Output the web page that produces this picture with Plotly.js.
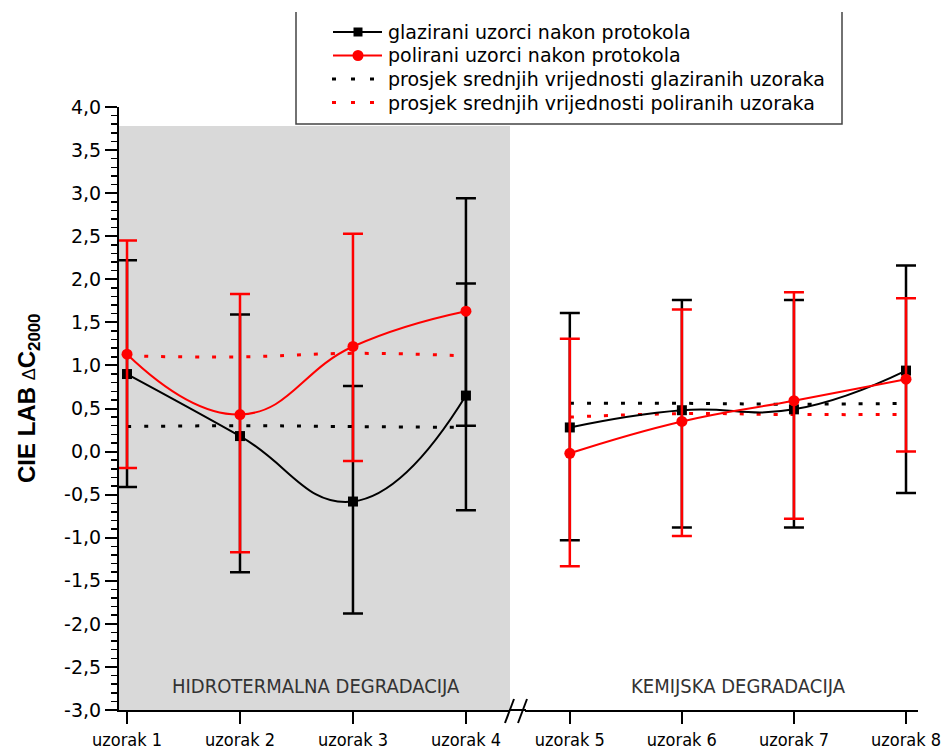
<!DOCTYPE html>
<html>
<head>
<meta charset="utf-8">
<script src="https://cdn.plot.ly/plotly-3.0.1.min.js"></script>
<style>html,body{margin:0;padding:0;background:#fff;}</style>
</head>
<body>
<div id="chart" style="width:946px;height:751px;"></div>
<script>
// ---- data ----
const categories = ['uzorak 1','uzorak 2','uzorak 3','uzorak 4','uzorak 5','uzorak 6','uzorak 7','uzorak 8'];
const glazirani      = [0.90, 0.18, -0.58, 0.65, 0.28, 0.48, 0.49, 0.94];
const glaziraniPlus  = [1.32, 1.41, 1.34, 1.30, 1.33, 1.28, 1.27, 1.22];
const glaziraniMinus = [1.31, 1.58, 1.30, 1.33, 1.31, 1.36, 1.37, 1.42];
const polirani       = [1.13, 0.43, 1.22, 1.63, -0.02, 0.35, 0.59, 0.84];
const poliraniPlus   = [1.32, 1.40, 1.31, 1.31, 1.33, 1.30, 1.26, 0.94];
const poliraniMinus  = [1.32, 1.60, 1.33, 1.33, 1.31, 1.33, 1.37, 0.84];
const prosjekGlaz    = [0.29, 0.30, 0.29, 0.28, 0.56, 0.56, 0.55, 0.56];
const prosjekPol     = [1.11, 1.10, 1.14, 1.11, 0.40, 0.44, 0.43, 0.43];
const yTickVals = [-3, -2.5, -2, -1.5, -1, -0.5, 0, 0.5, 1, 1.5, 2, 2.5, 3, 3.5, 4];
const names = ['glazirani uzorci nakon protokola', 'polirani uzorci nakon protokola',
  'prosjek srednjih vrijednosti glaziranih uzoraka', 'prosjek srednjih vrijednosti poliranih uzoraka'];
const sectionLabels = ['HIDROTERMALNA DEGRADACIJA', 'KEMIJSKA DEGRADACIJA'];

// ---- helpers ----
const part = (arr, p) => p === 0 ? arr.slice(0, 4) : arr.slice(4, 8);
const axisOf = p => p === 0 ? 'x' : 'x2';
const BLACK = '#000000', RED = '#ff0000';
const narrow = 'DejaVu Sans Condensed, Liberation Sans Narrow, sans-serif';
const wide = 'DejaVu Sans, Verdana, sans-serif';
const sans = 'Liberation Sans, Arial, sans-serif';
const DOT = '4px,13px';
const SMOOTH = 1.3;

const traces = [];
[0, 1].forEach(p => {
  traces.push({
    x: part(categories, p), y: part(prosjekGlaz, p), xaxis: axisOf(p), yaxis: 'y',
    type: 'scatter', mode: 'lines', name: names[2], showlegend: false,
    line: {color: BLACK, width: 3, dash: DOT, shape: 'spline', smoothing: SMOOTH}, hoverinfo: 'skip'
  });
  traces.push({
    x: part(categories, p), y: part(prosjekPol, p), xaxis: axisOf(p), yaxis: 'y',
    type: 'scatter', mode: 'lines', name: names[3], showlegend: false,
    line: {color: RED, width: 3, dash: DOT, shape: 'spline', smoothing: SMOOTH}, hoverinfo: 'skip'
  });
});
[0, 1].forEach(p => {
  traces.push({
    x: part(categories, p), y: part(glazirani, p), xaxis: axisOf(p), yaxis: 'y',
    type: 'scatter', mode: 'lines+markers', name: names[0], showlegend: false,
    line: {color: BLACK, width: 2, shape: 'spline', smoothing: SMOOTH},
    marker: {symbol: 'square', size: 10, color: BLACK},
    error_y: {type: 'data', symmetric: false, array: part(glaziraniPlus, p), arrayminus: part(glaziraniMinus, p),
      color: BLACK, thickness: 2.5, width: 10}
  });
});
// polirani error bars (the bar of uzorak 4 is black in the original figure)
traces.push({
  x: categories.slice(0, 3), y: polirani.slice(0, 3), xaxis: 'x', yaxis: 'y', name: names[1],
  type: 'scatter', mode: 'markers', marker: {opacity: 0, size: 1}, showlegend: false, hoverinfo: 'skip',
  error_y: {type: 'data', symmetric: false, array: poliraniPlus.slice(0, 3), arrayminus: poliraniMinus.slice(0, 3),
    color: RED, thickness: 2.5, width: 10}
});
traces.push({
  x: categories.slice(3, 4), y: polirani.slice(3, 4), xaxis: 'x', yaxis: 'y', name: names[1],
  type: 'scatter', mode: 'markers', marker: {opacity: 0, size: 1}, showlegend: false, hoverinfo: 'skip',
  error_y: {type: 'data', symmetric: false, array: poliraniPlus.slice(3, 4), arrayminus: poliraniMinus.slice(3, 4),
    color: BLACK, thickness: 2.5, width: 10}
});
traces.push({
  x: part(categories, 1), y: part(polirani, 1), xaxis: 'x2', yaxis: 'y', name: names[1],
  type: 'scatter', mode: 'markers', marker: {opacity: 0, size: 1}, showlegend: false, hoverinfo: 'skip',
  error_y: {type: 'data', symmetric: false, array: part(poliraniPlus, 1), arrayminus: part(poliraniMinus, 1),
    color: RED, thickness: 2.5, width: 10}
});
[0, 1].forEach(p => {
  traces.push({
    x: part(categories, p), y: part(polirani, p), xaxis: axisOf(p), yaxis: 'y',
    type: 'scatter', mode: 'lines+markers', name: names[1], showlegend: false,
    line: {color: RED, width: 2, shape: 'spline', smoothing: SMOOTH},
    marker: {symbol: 'circle', size: 11, color: RED}
  });
});

// pixel -> paper helpers for decorations
const L = 119, R = 918, T = 107, B = 710;
const px = v => (v - L) / (R - L);
const py = v => (B - v) / (B - T);

const xCommon = {
  type: 'category', showline: true, linecolor: BLACK, linewidth: 2, mirror: false,
  ticks: 'outside', ticklen: 12, tickwidth: 2, tickcolor: BLACK,
  showgrid: false, zeroline: false, anchor: 'y',
  tickfont: {family: narrow, size: 18, color: BLACK}, fixedrange: true
};

// ---- legend drawn as a framed key (rows, symbols, texts) ----
const legRows = [32, 55.5, 79, 102.5];
const legendShapes = [
  {type: 'path', xref: 'paper', yref: 'paper',
    path: `M ${px(296)} ${py(12)} L ${px(296)} ${py(124)} L ${px(842)} ${py(124)} L ${px(842)} ${py(12)}`,
    line: {color: '#444', width: 1.5}},
  {type: 'line', xref: 'paper', yref: 'paper', x0: px(333), x1: px(382), y0: py(legRows[0]), y1: py(legRows[0]),
    line: {color: BLACK, width: 2}},
  {type: 'rect', xref: 'paper', yref: 'paper', x0: px(353.5), x1: px(362.5), y0: py(legRows[0] + 4.5), y1: py(legRows[0] - 4.5),
    fillcolor: BLACK, line: {width: 0}},
  {type: 'line', xref: 'paper', yref: 'paper', x0: px(333), x1: px(382), y0: py(legRows[1]), y1: py(legRows[1]),
    line: {color: RED, width: 2}},
  {type: 'circle', xref: 'paper', yref: 'paper', x0: px(352.5), x1: px(363.5), y0: py(legRows[1] + 5.5), y1: py(legRows[1] - 5.5),
    fillcolor: RED, line: {width: 0}},
  {type: 'line', xref: 'paper', yref: 'paper', x0: px(332), x1: px(378), y0: py(legRows[2]), y1: py(legRows[2]),
    line: {color: BLACK, width: 3, dash: '4px,15px'}},
  {type: 'line', xref: 'paper', yref: 'paper', x0: px(332), x1: px(378), y0: py(legRows[3]), y1: py(legRows[3]),
    line: {color: RED, width: 3, dash: '4px,15px'}}
];
const legendTexts = names.map((n, i) => ({
  text: n, xref: 'paper', yref: 'paper', x: px(386), y: py(legRows[i]),
  showarrow: false, xanchor: 'left', yanchor: 'middle',
  font: {family: wide, size: 19, color: BLACK}
}));

const layout = {
  width: 946, height: 751,
  margin: {l: L, r: 946 - R, t: T, b: 751 - B, pad: 0},
  paper_bgcolor: '#ffffff', plot_bgcolor: 'rgba(0,0,0,0)',
  showlegend: false,
  xaxis: Object.assign({}, xCommon, {domain: [0, px(510)], range: [-0.071, 3.39]}),
  xaxis2: Object.assign({}, xCommon, {domain: [px(525), 1], range: [-0.4, 3.107]}),
  yaxis: {
    range: [-3, 4], showline: true, linecolor: BLACK, linewidth: 2,
    tickmode: 'array', tickvals: yTickVals,
    ticktext: yTickVals.map(v => v.toFixed(1).replace('.', ',')),
    ticks: 'outside', ticklen: 12, tickwidth: 2, tickcolor: BLACK,
    minor: {dtick: 0.1, tick0: 0, ticks: 'outside', ticklen: 6, tickwidth: 1.5, tickcolor: BLACK, showgrid: false},
    showgrid: false, zeroline: false,
    tickfont: {family: wide, size: 19, color: BLACK}, fixedrange: true
  },
  shapes: [
    {type: 'rect', xref: 'x domain', yref: 'y', x0: 0, x1: 1, y0: -3, y1: 3.78,
      fillcolor: '#d9d9d9', line: {width: 0}, layer: 'below'},
    {type: 'line', xref: 'paper', yref: 'paper', x0: px(509), x1: px(526), y0: 0, y1: 0,
      line: {color: BLACK, width: 2}},
    {type: 'line', xref: 'paper', yref: 'paper', x0: px(505), y0: py(723), x1: px(514), y1: py(699),
      line: {color: BLACK, width: 2}},
    {type: 'line', xref: 'paper', yref: 'paper', x0: px(518), y0: py(723), x1: px(527), y1: py(699),
      line: {color: BLACK, width: 2}}
  ].concat(legendShapes),
  annotations: [
    {text: sectionLabels[0], xref: 'paper', yref: 'paper', x: px(316), y: py(686),
      showarrow: false, xanchor: 'center', yanchor: 'middle',
      font: {family: narrow, size: 20, color: '#333333'}},
    {text: sectionLabels[1], xref: 'paper', yref: 'paper', x: px(738), y: py(686),
      showarrow: false, xanchor: 'center', yanchor: 'middle',
      font: {family: narrow, size: 20, color: '#333333'}},
    {text: "<b>CIE LAB </b><span style='font-size:18px'>Δ</span><b>C<sub>2000</sub></b>",
      xref: 'paper', yref: 'paper', x: px(28), y: py(399), textangle: -90,
      showarrow: false, xanchor: 'center', yanchor: 'middle',
      font: {family: sans, size: 24, color: BLACK}}
  ].concat(legendTexts)
};

Plotly.newPlot('chart', traces, layout, {displayModeBar: false, staticPlot: true});
</script>
</body>
</html>
